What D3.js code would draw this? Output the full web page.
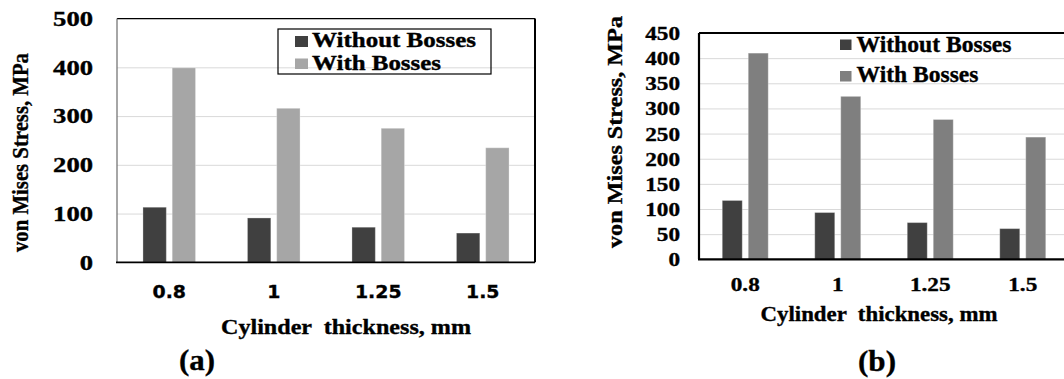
<!DOCTYPE html>
<html>
<head>
<meta charset="utf-8">
<script src="https://cdn.jsdelivr.net/npm/d3@7"></script>
<style>
  html, body { margin: 0; padding: 0; background: #fff; }
  svg text { font-family: "Liberation Serif", "Times New Roman", serif; font-weight: bold; fill: #000;
             stroke: #000; stroke-width: 0.35; white-space: pre; }
</style>
</head>
<body>
<svg id="fig" width="1064" height="379"></svg>
<script>
// Cylinder wall thickness (mm) and the two bushing variants
const categories = ["0.8", "1", "1.25", "1.5"];
const seriesNames = ["Without Bosses", "With Bosses"];

// (a) von Mises stress, MPa
const withoutBossesA = [113, 91, 72, 60];
const withBossesA = [399, 316, 275, 235];
const ticksA = [0, 100, 200, 300, 400, 500];

// (b) von Mises stress, MPa
const withoutBossesB = [117, 93, 73, 61];
const withBossesB = [410, 324, 278, 243];
const ticksB = [0, 50, 100, 150, 200, 250, 300, 350, 400, 450];

const svg = d3.select("#fig");
svg.append("rect").attr("width", 1064).attr("height", 379).attr("fill", "#fff");

// stretch glyphs horizontally by factor k
function stretch(sel, k) {
  sel.each(function () {
    const w = this.getComputedTextLength();
    d3.select(this).attr("textLength", w * k).attr("lengthAdjust", "spacingAndGlyphs");
  });
}
function fit(sel, len) {
  sel.attr("textLength", len).attr("lengthAdjust", "spacingAndGlyphs");
}

function drawPanel(p) {
  const rows = categories.map((c, i) => ({ cat: c, values: [p.without[i], p.with[i]] }));
  const g = svg.append("g");

  const x = d3.scaleBand().domain(categories).range([p.x0, p.x1]);
  const xs = d3.scaleBand().domain(seriesNames)
    .range([-p.group / 2, p.group / 2]).paddingInner(p.gap);
  const y = d3.scaleLinear().domain([0, p.max]).range([p.y0, p.y1]);
  const color = d3.scaleOrdinal().domain(seriesNames).range(p.colors);

  // horizontal gridlines
  const grid = g.append("g").attr("transform", `translate(${p.x0},0)`)
    .call(d3.axisLeft(y).tickValues(p.ticks.filter(t => t > 0 && t < p.max))
      .tickSize(-(p.frameRight - p.x0)).tickFormat(""));
  grid.select(".domain").remove();
  grid.selectAll("line").attr("stroke", "#d9d9d9").attr("stroke-width", 1);

  // bars
  g.append("g").selectAll("g").data(rows).join("g")
    .attr("transform", d => `translate(${x(d.cat) + x.bandwidth() / 2},0)`)
    .selectAll("rect")
    .data(d => d.values.map((v, j) => ({ key: seriesNames[j], v })))
    .join("rect")
    .attr("x", d => xs(d.key))
    .attr("width", xs.bandwidth())
    .attr("y", d => y(d.v))
    .attr("height", d => y(0) - y(d.v))
    .attr("fill", d => color(d.key))
    .attr("stroke", "#ffffff").attr("stroke-opacity", 0.3).attr("stroke-width", 1);

  // plot frame
  const fr = g.append("g").attr("fill", "none");
  fr.append("line").attr("x1", p.x0).attr("x2", p.frameRight).attr("y1", y(p.max)).attr("y2", y(p.max))
    .attr("stroke", "#000").attr("stroke-width", p.topW);
  fr.append("line").attr("x1", p.x0).attr("x2", p.x0).attr("y1", y(p.max)).attr("y2", y(0))
    .attr("stroke", p.leftColor).attr("stroke-width", p.leftW);
  fr.append("line").attr("x1", p.frameRight).attr("x2", p.frameRight).attr("y1", y(p.max)).attr("y2", y(0))
    .attr("stroke", "#000").attr("stroke-width", p.rightW);
  fr.append("line").attr("x1", p.x0 - 1).attr("x2", p.frameRight).attr("y1", y(0)).attr("y2", y(0))
    .attr("stroke", "#000").attr("stroke-width", p.bottomW);

  // y tick labels
  const ya = g.append("g").attr("transform", `translate(${p.yLabelRight},0)`)
    .call(d3.axisLeft(y).tickValues(p.ticks).tickSize(0).tickPadding(0));
  ya.select(".domain").remove();
  ya.selectAll("text")
    .style("font-family", '"Liberation Serif", serif')
    .attr("font-size", p.yTickSize).attr("dy", "0.34em").attr("x", 0)
    .attr("text-anchor", "end").attr("fill", "#000")
    .each(function (d) {
      d3.select(this).call(fit, String(d).length * p.yDigitW);
    });

  // x tick labels
  const xa = g.append("g").attr("transform", `translate(0,${p.xLabelY})`)
    .call(d3.axisBottom(x).tickSize(0).tickPadding(0));
  xa.select(".domain").remove();
  xa.selectAll("text")
    .style("font-family", p.xTickFont)
    .attr("font-size", p.xTickSize).attr("y", 0).attr("dy", "0.36em")
    .attr("fill", "#000");
  stretch(xa.selectAll("text"), p.xTickStretch);

  // axis titles
  g.append("text").attr("x", p.xTitle[0]).attr("y", p.xTitle[1])
    .attr("text-anchor", "middle").attr("font-size", p.xTitleSize)
    .text("Cylinder  thickness, mm").call(fit, p.xTitleLen);

  g.append("text")
    .attr("transform", `translate(${p.yTitle[0]},${p.yTitle[1]}) rotate(-90)`)
    .attr("text-anchor", "middle").attr("font-size", p.yTitleSize)
    .text("von Mises Stress, MPa").call(fit, p.yTitleLen);

  // panel letter
  g.append("text").attr("x", p.letter[0]).attr("y", p.letter[1])
    .attr("text-anchor", "middle").attr("font-size", p.letterSize)
    .text(p.letterText).call(fit, p.letterLen);

  // legend
  const lg = g.append("g");
  if (p.legendBox) {
    lg.append("rect").attr("x", p.legendBox[0]).attr("y", p.legendBox[1])
      .attr("width", p.legendBox[2]).attr("height", p.legendBox[3])
      .attr("fill", "none").attr("stroke", "#000").attr("stroke-width", 1.2);
  }
  seriesNames.forEach((name, i) => {
    const it = p.legendItems[i];
    lg.append("rect").attr("x", it.sx).attr("y", it.sy)
      .attr("width", it.sw).attr("height", it.sh).attr("fill", color(name));
    lg.append("text").attr("x", it.tx).attr("y", it.ty)
      .attr("font-size", p.legendSize).text(name).call(fit, it.len);
  });
}

drawPanel({
  without: withoutBossesA, with: withBossesA, ticks: ticksA, max: 500,
  x0: 117, x1: 535, frameRight: 535, y0: 262.3, y1: 18.6,
  group: 52.6, gap: 0.2, colors: ["#404040", "#a6a6a6"],
  topW: 1.2, leftW: 1.2, leftColor: "#6b6b6b", rightW: 2, bottomW: 1.8,
  yLabelRight: 93, yTickSize: 20, yDigitW: 13.3,
  xLabelY: 292, xTickFont: '"DejaVu Sans", sans-serif', xTickSize: 18, xTickStretch: 1.05,
  xTitle: [346, 334], xTitleSize: 21.5, xTitleLen: 250,
  yTitle: [28, 152.5], yTitleSize: 23, yTitleLen: 199,
  letter: [197, 370], letterSize: 30, letterLen: 36, letterText: "(a)",
  legendBox: [278, 29, 213, 45], legendSize: 20,
  legendItems: [
    { sx: 295, sy: 36, sw: 13, sh: 11, tx: 312, ty: 46.5, len: 164 },
    { sx: 295, sy: 58.5, sw: 13, sh: 10.5, tx: 312, ty: 69.8, len: 129 }
  ]
});

drawPanel({
  without: withoutBossesB, with: withBossesB, ticks: ticksB, max: 450,
  x0: 699, x1: 1069, frameRight: 1070, y0: 259.3, y1: 33,
  group: 46, gap: 0.23, colors: ["#404040", "#7f7f7f"],
  topW: 2.2, leftW: 2.2, leftColor: "#000", rightW: 2, bottomW: 2.2,
  yLabelRight: 680, yTickSize: 19, yDigitW: 11.6,
  xLabelY: 284, xTickFont: '"Liberation Serif", serif', xTickSize: 19, xTickStretch: 1.22,
  xTitle: [879, 321], xTitleSize: 21, xTitleLen: 237,
  yTitle: [622, 132], yTitleSize: 21, yTitleLen: 232,
  letter: [877, 371], letterSize: 30, letterLen: 38, letterText: "(b)",
  legendBox: null, legendSize: 23,
  legendItems: [
    { sx: 840, sy: 39.5, sw: 11.5, sh: 10.5, tx: 856.5, ty: 52.3, len: 155 },
    { sx: 840, sy: 71, sw: 11.5, sh: 10.5, tx: 856.5, ty: 82.3, len: 122 }
  ]
});
</script>
</body>
</html>
